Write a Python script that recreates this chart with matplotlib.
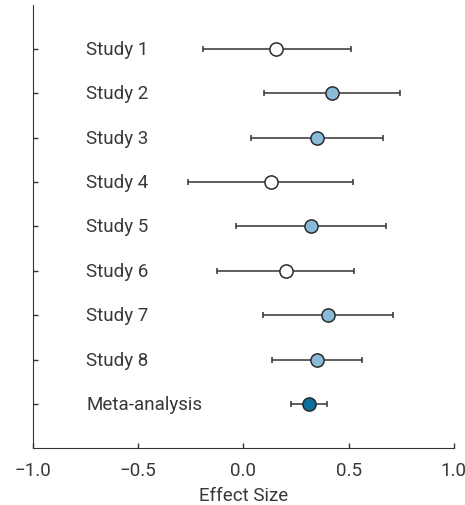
import matplotlib.pyplot as plt

labels = ["Study 1", "Study 2", "Study 3", "Study 4", "Study 5",
          "Study 6", "Study 7", "Study 8", "Meta-analysis"]
effect = [0.157, 0.419, 0.352, 0.131, 0.319, 0.200, 0.400, 0.352, 0.310]
lower = [-0.191, 0.097, 0.037, -0.264, -0.033, -0.126, 0.091, 0.135, 0.226]
upper = [0.511, 0.743, 0.661, 0.522, 0.676, 0.527, 0.709, 0.565, 0.397]
kind = ["open", "blue", "blue", "open", "blue", "open", "blue", "blue", "meta"]

fills = {"open": "white", "blue": "#89bbd8", "meta": "#0c6f9c"}

plt.rcParams['font.family'] = ['Roboto', 'DejaVu Sans']

fig = plt.figure(figsize=(4.65, 5.06), dpi=100)
ax = fig.add_axes([0.071, 0.112, 0.905, 0.877])

n = len(labels)
for i in range(n):
    y = n - 1 - i
    ax.errorbar(effect[i], y, xerr=[[effect[i] - lower[i]], [upper[i] - effect[i]]],
                fmt='none', ecolor='#333333', elinewidth=1.1, capsize=2.5,
                capthick=1.1, zorder=2)
    ax.plot(effect[i], y, 'o', markersize=9.5, markerfacecolor=fills[kind[i]],
            markeredgecolor='#2b2b2b', markeredgewidth=1.1, zorder=3)
    ax.text(-0.748, y, labels[i], ha='left', va='center', fontsize=13.5,
            color='#383838')

ax.set_xlim(-1, 1)
ax.set_ylim(-1, 9)
ax.set_xticks([-1.0, -0.5, 0.0, 0.5, 1.0])
ax.set_xticklabels(["\u22121.0", "\u22120.5", "0.0", "0.5", "1.0"])
ax.set_yticks(range(n))
ax.set_yticklabels([])
ax.tick_params(axis='both', direction='in', length=3.5, width=1, colors='#333333',
               labelsize=13.5, labelcolor='#383838', pad=9)
ax.spines['top'].set_visible(False)
ax.spines['right'].set_visible(False)
ax.spines['left'].set_color('#333333')
ax.spines['bottom'].set_color('#333333')
ax.set_xlabel("Effect Size", fontsize=13.5, color='#383838', labelpad=5)

fig.savefig("out.png", dpi=100)
